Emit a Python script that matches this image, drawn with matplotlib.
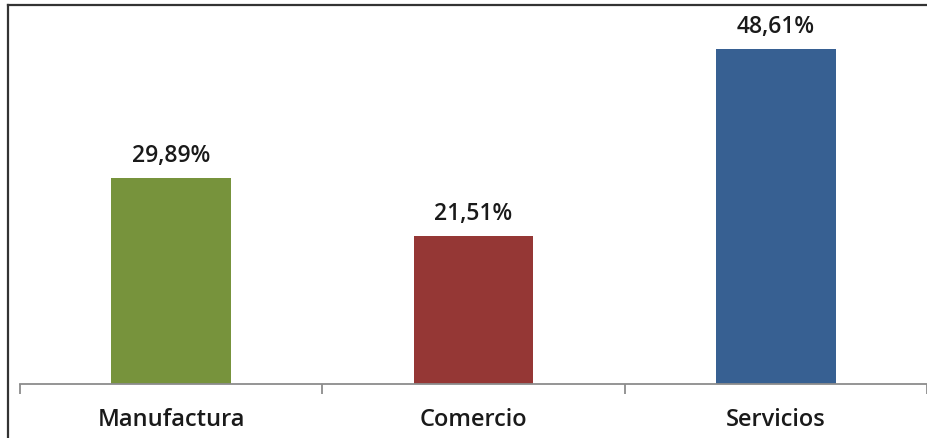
import numpy as np
import matplotlib.pyplot as plt
from matplotlib.lines import Line2D

categories = ["Manufactura", "Comercio", "Servicios"]
values = [29.89, 21.51, 48.61]
value_labels = ["29,89%", "21,51%", "48,61%"]
colors = ["#77933C", "#953735", "#376092"]

plt.rcParams['font.family'] = ['Open Sans', 'DejaVu Sans']

fig = plt.figure(figsize=(9.28, 4.38), dpi=100)
ax = fig.add_axes([20 / 928, (438 - 384) / 438, 907 / 928, 384 / 438])

x = np.arange(len(categories))
ax.bar(x, values, width=0.395, color=colors, zorder=2)

for xi, v, lab in zip(x, values, value_labels):
    ax.annotate(lab, (xi, v), xytext=(0, 7), textcoords="offset points",
                ha="center", va="bottom", fontsize=16.5, fontweight="semibold",
                color="#1a1a1a")

ax.set_xlim(-0.5, len(categories) - 0.5)
ax.set_ylim(0, 55.7)

for s in ["top", "right", "left"]:
    ax.spines[s].set_visible(False)
ax.spines["bottom"].set_color("#8c8c8c")
ax.spines["bottom"].set_linewidth(1.3)
ax.set_yticks([])

ax.set_xticks(x)
ax.set_xticklabels(categories, fontsize=17, fontweight="semibold", color="#1a1a1a")
ax.tick_params(axis="x", which="major", length=0, pad=17)
ax.set_xticks(np.arange(-0.5, len(categories)), minor=True)
ax.tick_params(axis="x", which="minor", length=7, width=1.3, color="#8c8c8c")

# outer frame (top and left edges of the screenshot)
fig.add_artist(Line2D([8 / 928, 1], [1 - 5 / 438, 1 - 5 / 438],
                      transform=fig.transFigure, color="#333333", lw=1.6))
fig.add_artist(Line2D([8 / 928, 8 / 928], [0, 1 - 5 / 438],
                      transform=fig.transFigure, color="#333333", lw=1.6))

fig.savefig("out.png", dpi=100)
